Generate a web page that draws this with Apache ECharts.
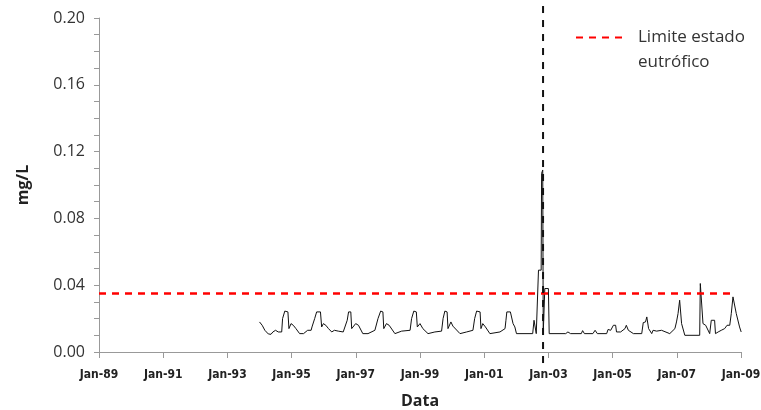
<!DOCTYPE html>
<html>
<head>
<meta charset="utf-8">
<script src="https://cdn.jsdelivr.net/npm/echarts@6/dist/echarts.min.js"></script>
<style>html,body{margin:0;padding:0;background:#fff;}#c{width:761px;height:410px;}</style>
</head>
<body>
<div id="c"></div>
<script>
// ---- data ----
const dates = [
'1994-01-01','1994-02-01','1994-03-01','1994-04-10','1994-05-10','1994-06-01','1994-07-01','1994-08-01','1994-09-10','1994-09-20','1994-10-15','1994-11-20','1994-12-01','1994-12-25',
'1995-01-20','1995-02-20','1995-04-01','1995-05-15','1995-07-01','1995-08-10','1995-08-20','1995-09-20','1995-10-12','1995-11-25','1995-12-08','1995-12-28',
'1996-01-25','1996-02-25','1996-04-01','1996-05-01','1996-06-15','1996-08-10','1996-09-25','1996-10-10','1996-11-05','1996-11-15','1996-12-30',
'1997-02-01','1997-03-20','1997-05-18','1997-08-05','1997-09-10','1997-10-10','1997-11-05','1997-11-15','1997-12-15',
'1998-01-15','1998-03-20','1998-06-05','1998-09-10','1998-09-27','1998-10-22','1998-11-20','1998-12-01','1999-01-01',
'1999-02-03','1999-04-01','1999-06-18','1999-09-03','1999-09-20','1999-10-10','1999-11-05','1999-11-15','1999-12-18',
'2000-01-10','2000-03-30','2000-06-14','2000-08-25','2000-09-14','2000-10-06','2000-11-15','2000-11-25','2000-12-15',
'2001-01-15','2001-03-05','2001-06-28','2001-08-25','2001-09-05','2001-09-15','2001-10-25','2001-11-25','2001-12-15',
'2002-01-03','2002-07-05','2002-07-20','2002-07-27','2002-08-15','2002-09-05','2002-09-10','2002-10-10','2002-10-15','2002-10-28','2002-11-03','2002-11-21','2003-01-01','2003-01-10',
'2003-07-15','2003-08-10','2003-09-10','2004-01-10','2004-01-25','2004-02-15','2004-05-20','2004-06-15','2004-07-10','2004-10-25','2004-11-10','2004-12-10',
'2005-01-10','2005-02-05','2005-02-15','2005-04-01','2005-05-20','2005-06-05','2005-06-28','2005-08-25','2005-11-28','2005-12-15',
'2006-01-10','2006-01-25','2006-02-05','2006-02-15','2006-03-20','2006-04-05','2006-05-15','2006-07-10','2006-10-12','2006-12-10','2006-12-28',
'2007-01-15','2007-02-03','2007-02-25','2007-04-01','2007-09-18','2007-09-25','2007-10-12','2007-10-25','2007-11-25',
'2008-01-10','2008-01-28','2008-03-05','2008-03-15','2008-04-15','2008-05-20','2008-06-28','2008-07-25','2008-08-25','2008-09-12','2008-10-01','2008-10-20','2008-11-08','2008-11-25','2008-12-15','2009-01-03'
];
const concentration = [
0.018,0.016,0.013,0.0108,0.0106,0.012,0.013,0.012,0.012,0.020,0.0245,0.024,0.014,0.017,
0.016,0.014,0.011,0.011,0.013,0.013,0.015,0.020,0.024,0.024,0.015,0.017,
0.016,0.014,0.012,0.013,0.0125,0.012,0.019,0.024,0.024,0.014,0.017,
0.016,0.011,0.011,0.013,0.020,0.0245,0.024,0.014,0.017,
0.016,0.011,0.0125,0.013,0.020,0.0245,0.024,0.015,0.017,
0.014,0.011,0.012,0.0125,0.020,0.0245,0.024,0.014,0.018,
0.0155,0.011,0.012,0.013,0.020,0.0245,0.024,0.014,0.017,
0.015,0.011,0.012,0.014,0.019,0.024,0.024,0.017,0.015,
0.011,0.011,0.019,0.020,0.011,0.011,0.049,0.049,0.107,0.109,0.011,0.038,0.038,0.011,
0.011,0.012,0.011,0.011,0.0128,0.011,0.011,0.013,0.011,0.011,0.0135,0.013,
0.016,0.016,0.012,0.012,0.014,0.016,0.013,0.011,0.011,0.0176,
0.018,0.021,0.020,0.014,0.011,0.013,0.0125,0.013,0.011,0.014,0.018,
0.023,0.031,0.017,0.010,0.010,0.041,0.041,0.017,0.016,
0.011,0.019,0.019,0.011,0.012,0.013,0.014,0.016,0.016,0.023,0.033,0.033,0.023,0.022,0.015,0.012
];
const limitName = 'Limite estado eutrófico';
const limitLines = ['Limite estado', 'eutrófico'];
const limitValue = 0.035;
const limitDates = ['1989-01-01','2008-10-20'];
const eventDate = '2002-11-01';
const eventSpan = [-0.0066, 0.209];
const xTickLabels = ['Jan-89','Jan-91','Jan-93','Jan-95','Jan-97','Jan-99','Jan-01','Jan-03','Jan-05','Jan-07','Jan-09'];
const yTickLabels = ['0.00','0.04','0.08','0.12','0.16','0.20'];
const xStart = 1989, xEnd = 2009, xStep = 2;
const yMax = 0.2, yStep = 0.04;

// ---- helpers ----
function decYear(s){
  const p = s.split('-').map(Number);
  return p[0] + (p[1]-1)/12 + (p[2]-1)/365;
}
const mainData = dates.map((d,i)=>[decYear(d), concentration[i]]);
const limitData = limitDates.map(d=>[decYear(d), limitValue]);
const eventData = eventSpan.map(v=>[decYear(eventDate), v]);

const chart = echarts.init(document.getElementById('c'), null, {renderer:'canvas'});
const font = '"Open Sans", "Liberation Sans", sans-serif';
chart.setOption({
  animation:false,
  backgroundColor:'#fff',
  grid:{left:99, right:20, top:18, bottom:58, outerBoundsMode:'none'},
  legend:{
    data:[limitName],
    left:575, top:0, padding:0,
    itemWidth:50, itemHeight:14, itemGap:0,
    itemStyle:{opacity:0},
    formatter:()=>'\n' + limitLines.map(s=>'{t|'+s+'}').join('\n'),
    textStyle:{fontFamily:font, fontSize:17, color:'#333', lineHeight:25,
      rich:{t:{fontFamily:font, fontSize:17, color:'#333', lineHeight:25, padding:[0,0,0,7]}}},
    selectedMode:false
  },
  xAxis:{
    type:'value', min:xStart, max:xEnd, interval:xStep,
    name:'Data', nameLocation:'middle', nameGap:41,
    nameTextStyle:{fontFamily:font, fontSize:16, fontWeight:'bold', color:'#222'},
    axisLine:{lineStyle:{color:'#999', width:1}},
    axisTick:{show:true, length:6, lineStyle:{color:'#999'}},
    axisLabel:{margin:17, fontFamily:'"Liberation Sans Narrow", "DejaVu Sans Condensed", sans-serif', fontSize:12, fontWeight:'bold', color:'#222',
      formatter:v=>xTickLabels[Math.round((v-xStart)/xStep)]},
    splitLine:{show:false}
  },
  yAxis:{
    type:'value', min:0, max:yMax, interval:yStep,
    name:'mg/L', nameLocation:'middle', nameGap:68,
    nameTextStyle:{fontFamily:font, fontSize:16, fontWeight:'bold', color:'#222'},
    axisLine:{show:true, lineStyle:{color:'#999', width:1}},
    axisTick:{show:true, length:5, lineStyle:{color:'#999'}},
    minorTick:{show:true, splitNumber:4, length:5, lineStyle:{color:'#999'}},
    axisLabel:{margin:14, fontFamily:font, fontSize:16, color:'#333',
      formatter:v=>yTickLabels[Math.round(v/yStep)]},
    splitLine:{show:false}
  },
  series:[
    {type:'line', name:'Fósforo', data:mainData, symbol:'none', z:2,
      lineStyle:{color:'#111', width:1}},
    {type:'line', name:limitName, data:limitData, symbol:'none', symbolSize:0, z:3, clip:false,
      itemStyle:{color:'#ff0000'},
      lineStyle:{color:'#ff0000', width:2.5, type:[7,6]}},
    {type:'line', name:'evento', data:eventData, symbol:'none', z:4, clip:false,
      lineStyle:{color:'#111', width:2, type:[7,7]}}
  ]
});
</script>
</body>
</html>
